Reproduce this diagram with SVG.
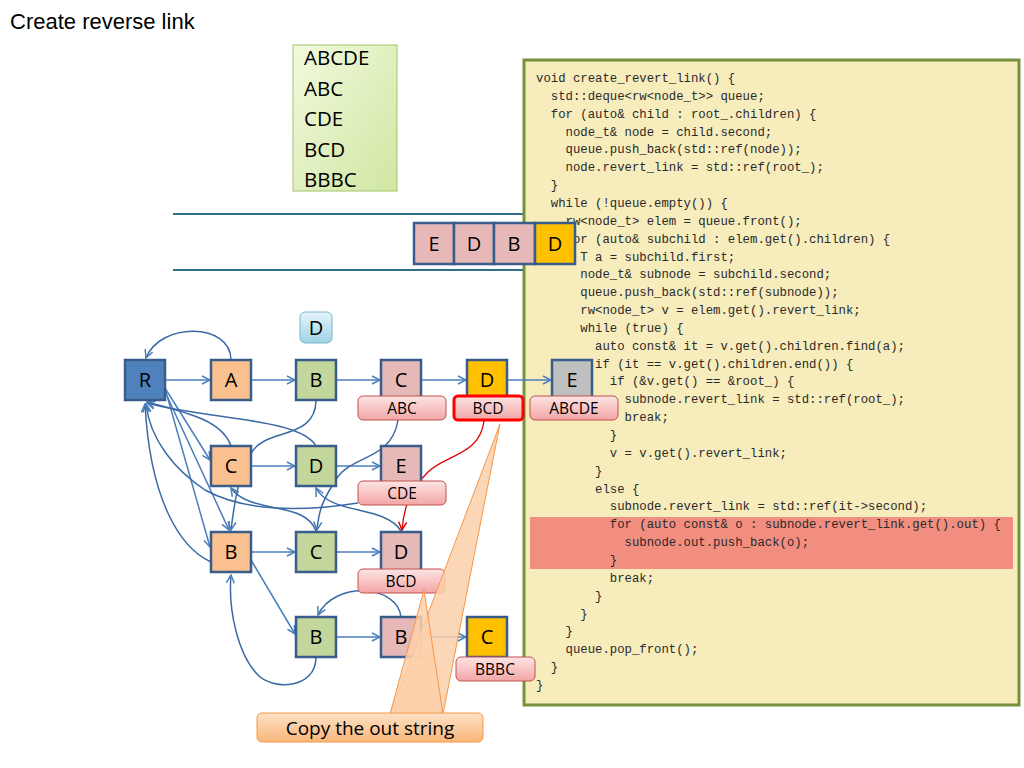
<svg xmlns="http://www.w3.org/2000/svg" width="1024" height="768" viewBox="0 0 1024 768">
<defs>
<linearGradient id="gPink" x1="0" y1="0" x2="0" y2="1"><stop offset="0" stop-color="#fde4e4"/><stop offset="1" stop-color="#f3a6a6"/></linearGradient>
<linearGradient id="gGreen" x1="0" y1="0" x2="1" y2="1"><stop offset="0" stop-color="#f2f9de"/><stop offset="1" stop-color="#cfe7a2"/></linearGradient>
<linearGradient id="gBlue" x1="0" y1="0" x2="0" y2="1"><stop offset="0" stop-color="#e6f5fa"/><stop offset="1" stop-color="#9dd3e5"/></linearGradient>
<linearGradient id="gOrange" x1="0" y1="0" x2="0" y2="1"><stop offset="0" stop-color="#fde2c6"/><stop offset="1" stop-color="#f9b67a"/></linearGradient>
<marker id="arr" viewBox="0 0 10 10" refX="9" refY="5" markerWidth="10" markerHeight="10" markerUnits="userSpaceOnUse" orient="auto">
<path d="M1,1 L9,5 L1,9" fill="none" stroke="#4a7ebb" stroke-width="1.5"/>
</marker>
<marker id="arrRed" viewBox="0 0 10 10" refX="9" refY="5" markerWidth="10" markerHeight="10" markerUnits="userSpaceOnUse" orient="auto">
<path d="M1,1 L9,5 L1,9" fill="none" stroke="#e00000" stroke-width="1.5"/>
</marker>
<style>
.ttl{font-family:"Liberation Sans",Arial,sans-serif;font-size:22px;fill:#000}
.lst{font-family:"Open Sans","Liberation Sans",sans-serif;font-size:20.5px;fill:#000}
.code{font-family:"Liberation Mono","DejaVu Sans Mono",monospace;font-size:12.3px;fill:#2a2a2a}
.nd{stroke:#385d8a;stroke-width:2.5}
.nt{font-family:"Open Sans","Liberation Sans",sans-serif;font-size:20px;fill:#000;text-anchor:middle}
.lb{fill:url(#gPink);stroke:#c0504d;stroke-width:1}
.lt{font-family:"Open Sans","Liberation Sans",sans-serif;font-size:15.5px;fill:#000;text-anchor:middle}
.e{fill:none;stroke:#4a7ebb;stroke-width:1.5;marker-end:url(#arr)}
.rv{fill:none;stroke:#3a6aa5;stroke-width:1.5;marker-end:url(#arr)}
.fo{fill:#fac08f}.fg{fill:#c3d69b}.fp{fill:#e6b9b8}.fy{fill:#ffc000}.fx{fill:#bfbfbf}.fb{fill:#4f81bd}
</style>
</defs>
<rect width="1024" height="768" fill="#fff"/>

<text class="ttl" x="10" y="29">Create reverse link</text>

<g id="strings">
<rect x="293" y="45" width="104" height="146" fill="url(#gGreen)" stroke="#a5c46a" stroke-width="1"/>
<text class="lst" x="304" y="65">ABCDE</text>
<text class="lst" x="304" y="96">ABC</text>
<text class="lst" x="304" y="126">CDE</text>
<text class="lst" x="304" y="157">BCD</text>
<text class="lst" x="304" y="187">BBBC</text>
</g>

<g id="queue-lines">
<line x1="173" y1="214" x2="530" y2="214" stroke="#31708f" stroke-width="2"/>
<line x1="173" y1="270" x2="530" y2="270" stroke="#31708f" stroke-width="2"/>
</g>

<g id="code">
<rect x="524" y="60" width="495" height="645" fill="#f7ecbc" stroke="#76923c" stroke-width="3"/>
<rect x="530" y="517" width="483" height="52" fill="#f28e80"/>
<text class="code" xml:space="preserve"><tspan x="536" y="82">void create_revert_link() {</tspan><tspan x="536" y="99.85">  std::deque&lt;rw&lt;node_t&gt;&gt; queue;</tspan><tspan x="536" y="117.7">  for (auto&amp; child : root_.children) {</tspan><tspan x="536" y="135.55">    node_t&amp; node = child.second;</tspan><tspan x="536" y="153.4">    queue.push_back(std::ref(node));</tspan><tspan x="536" y="171.25">    node.revert_link = std::ref(root_);</tspan><tspan x="536" y="189.1">  }</tspan><tspan x="536" y="206.95">  while (!queue.empty()) {</tspan><tspan x="536" y="224.8">    rw&lt;node_t&gt; elem = queue.front();</tspan><tspan x="536" y="242.65">    for (auto&amp; subchild : elem.get().children) {</tspan><tspan x="536" y="260.5">      T a = subchild.first;</tspan><tspan x="536" y="278.35">      node_t&amp; subnode = subchild.second;</tspan><tspan x="536" y="296.2">      queue.push_back(std::ref(subnode));</tspan><tspan x="536" y="314.05">      rw&lt;node_t&gt; v = elem.get().revert_link;</tspan><tspan x="536" y="331.9">      while (true) {</tspan><tspan x="536" y="349.75">        auto const&amp; it = v.get().children.find(a);</tspan><tspan x="536" y="367.6">        if (it == v.get().children.end()) {</tspan><tspan x="536" y="385.45">          if (&amp;v.get() == &amp;root_) {</tspan><tspan x="536" y="403.3">            subnode.revert_link = std::ref(root_);</tspan><tspan x="536" y="421.15">            break;</tspan><tspan x="536" y="439">          }</tspan><tspan x="536" y="456.85">          v = v.get().revert_link;</tspan><tspan x="536" y="474.7">        }</tspan><tspan x="536" y="492.55">        else {</tspan><tspan x="536" y="510.4">          subnode.revert_link = std::ref(it-&gt;second);</tspan><tspan x="536" y="528.25">          for (auto const&amp; o : subnode.revert_link.get().out) {</tspan><tspan x="536" y="546.1">            subnode.out.push_back(o);</tspan><tspan x="536" y="563.95">          }</tspan><tspan x="536" y="581.8">          break;</tspan><tspan x="536" y="599.65">        }</tspan><tspan x="536" y="617.5">      }</tspan><tspan x="536" y="635.35">    }</tspan><tspan x="536" y="653.2">    queue.pop_front();</tspan><tspan x="536" y="671.05">  }</tspan><tspan x="536" y="688.9">}</tspan></text>
</g>

<g id="queue">
<rect class="nd fp" x="414" y="223" width="40" height="41"/><text class="nt" x="434" y="251">E</text>
<rect class="nd fp" x="454" y="223" width="40" height="41"/><text class="nt" x="474" y="251">D</text>
<rect class="nd fp" x="494" y="223" width="41" height="41"/><text class="nt" x="514" y="251">B</text>
<rect class="nd fy" x="535" y="223" width="40" height="41"/><text class="nt" x="555" y="251">D</text>
</g>

<g id="connectors">
<line class="e" x1="165" y1="380" x2="210" y2="380"/>
<line class="e" x1="251" y1="380" x2="295" y2="380"/>
<line class="e" x1="336" y1="380" x2="380" y2="380"/>
<line class="e" x1="421" y1="380" x2="466" y2="380"/>
<line class="e" x1="507" y1="380" x2="551" y2="380"/>
<line class="e" x1="251" y1="466" x2="295" y2="466"/>
<line class="e" x1="336" y1="466" x2="380" y2="466"/>
<line class="e" x1="251" y1="552" x2="295" y2="552"/>
<line class="e" x1="336" y1="552" x2="380" y2="552"/>
<line class="e" x1="336" y1="637" x2="380" y2="637"/>
<line class="e" x1="421" y1="637" x2="466" y2="637"/>
<line class="e" x1="165" y1="388" x2="210" y2="460"/>
<line class="e" x1="166" y1="392" x2="210" y2="547"/>
<line class="e" x1="167" y1="396" x2="229" y2="530"/>
<line class="e" x1="251" y1="560" x2="295" y2="634"/>
<path class="rv" d="M231,360 C231,322 160,322 146,358"/>
<path class="rv" d="M231,446 C222,420 185,412 147,402"/>
<path class="rv" d="M316,446 C300,418 210,420 147,403"/>
<path class="rv" d="M358,503 C300,512 245,512 205,490 C175,470 150,440 146,404"/>
<path class="rv" d="M211,562 C180,548 150,500 145,404"/>
<path class="rv" d="M316,400 C316,440 266,428 252,452 S234,505 231,530"/>
<path class="rv" d="M398,420 C392,460 352,455 337,478 S319,510 317,530"/>
<path class="rv" d="M316,531 C305,500 250,515 231,488"/>
<path class="rv" d="M401,531 C385,505 330,515 316,488"/>
<path class="rv" d="M401,617 C398,585 335,580 318,615"/>
<path class="rv" d="M316,657 C316,690 272,690 258,675 C238,655 228,610 231,575"/>
<path d="M484,421 C480,455 445,455 428,472 S404,505 402,530" fill="none" stroke="#e00000" stroke-width="1.3" marker-end="url(#arrRed)"/>
</g>

<g id="node-R"><rect class="nd fb" x="125" y="360" width="40" height="40"/><text class="nt" x="145" y="387">R</text></g>
<g id="node-A"><rect class="nd fo" x="211" y="360" width="40" height="40"/><text class="nt" x="231" y="387">A</text></g>
<g id="node-B1"><rect class="nd fg" x="296" y="360" width="40" height="40"/><text class="nt" x="316" y="387">B</text></g>
<g id="node-C1"><rect class="nd fp" x="381" y="360" width="40" height="40"/><text class="nt" x="401" y="387">C</text></g>
<g id="node-D1"><rect class="nd fy" x="467" y="360" width="40" height="40"/><text class="nt" x="487" y="387">D</text></g>
<g id="node-E1"><rect class="nd fx" x="552" y="360" width="40" height="40"/><text class="nt" x="572" y="387">E</text></g>

<g id="node-C2"><rect class="nd fo" x="211" y="446" width="40" height="40"/><text class="nt" x="231" y="473">C</text></g>
<g id="node-D2"><rect class="nd fg" x="296" y="446" width="40" height="40"/><text class="nt" x="316" y="473">D</text></g>
<g id="node-E2"><rect class="nd fp" x="381" y="446" width="40" height="40"/><text class="nt" x="401" y="473">E</text></g>

<g id="node-B3"><rect class="nd fo" x="211" y="532" width="40" height="40"/><text class="nt" x="231" y="559">B</text></g>
<g id="node-C3"><rect class="nd fg" x="296" y="532" width="40" height="40"/><text class="nt" x="316" y="559">C</text></g>
<g id="node-D3"><rect class="nd fp" x="381" y="532" width="40" height="40"/><text class="nt" x="401" y="559">D</text></g>

<g id="node-B4"><rect class="nd fg" x="296" y="617" width="40" height="40"/><text class="nt" x="316" y="644">B</text></g>
<g id="node-B5"><rect class="nd fp" x="381" y="617" width="40" height="40"/><text class="nt" x="401" y="644">B</text></g>
<g id="node-C4"><rect class="nd fy" x="467" y="617" width="40" height="40"/><text class="nt" x="487" y="644">C</text></g>

<g id="label-ABC"><rect class="lb" x="358" y="396" width="88" height="24" rx="5"/><text class="lt" x="402" y="414">ABC</text></g>
<g id="label-BCD1"><rect x="454" y="396" width="69" height="24" rx="4" fill="url(#gPink)" stroke="#ff0000" stroke-width="3"/><text class="lt" x="488" y="414">BCD</text></g>
<g id="label-ABCDE"><rect class="lb" x="530" y="396" width="88" height="24" rx="5"/><text class="lt" x="574" y="414">ABCDE</text></g>
<g id="label-CDE"><rect class="lb" x="358" y="481" width="88" height="24" rx="5"/><text class="lt" x="402" y="499">CDE</text></g>
<g id="label-BCD3"><rect class="lb" x="358" y="569" width="87" height="24" rx="5"/><text class="lt" x="401" y="587">BCD</text></g>
<g id="label-BBBC"><rect class="lb" x="456" y="657" width="79" height="24" rx="5"/><text class="lt" x="495" y="675">BBBC</text></g>

<g id="label-D"><rect x="300" y="312" width="32" height="31" rx="5" fill="url(#gBlue)" stroke="#7ab8cf" stroke-width="1"/><text class="nt" x="316" y="335">D</text></g>

<g id="callout">
<path d="M390,714 L500,424 L443,714 Z" fill="#fbd0aa" fill-opacity="0.85" stroke="#f79646" stroke-width="1"/>
<path d="M390,714 L424,590 L443,714 Z" fill="#fbd0aa" fill-opacity="0.85" stroke="#f79646" stroke-width="1"/>
<rect x="257" y="713" width="226" height="29" rx="5" fill="url(#gOrange)" stroke="#f79646" stroke-width="1"/>
<text x="370" y="735" font-family="'Open Sans','Liberation Sans',sans-serif" font-size="19" text-anchor="middle" fill="#000">Copy the out string</text>
</g>
</svg>
